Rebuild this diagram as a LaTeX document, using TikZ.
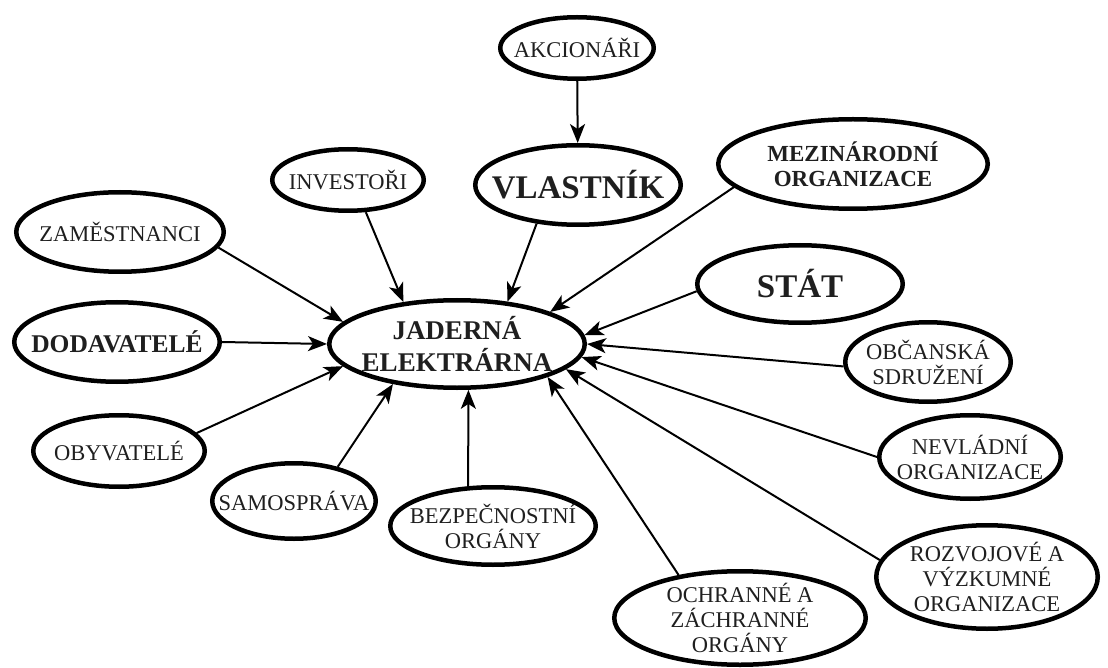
\documentclass[tikz,border=0pt]{standalone}
\usepackage{fontspec}
\setmainfont{Liberation Serif}
\usetikzlibrary{shapes.geometric,arrows.meta}
\tikzset{
  ell/.style={draw, ellipse, line width=4.5pt, inner sep=0pt, fill=white},
  txt/.style={font=\fontsize{22.5}{25}\selectfont, align=center, inner sep=0pt, text=black!88},
  txtb/.style={align=center, inner sep=0pt, text=black!88},
  conn/.style={-{Stealth[length=19pt,width=15pt,inset=5pt]}, line width=2pt},
}
\begin{document}
\begin{tikzpicture}[x=1pt,y=-1pt]
\useasboundingbox (0,0) rectangle (1108,668);
% ellipses
\node[ell, minimum width=153.5pt, minimum height=61.5pt] (akc) at (577,48) {};
\node[ell, minimum width=205.5pt, minimum height=79.5pt] (vla) at (578,185) {};
\node[ell, minimum width=151.5pt, minimum height=61.5pt] (inv) at (348,180) {};
\node[ell, minimum width=269.5pt, minimum height=89.5pt] (mez) at (853,164) {};
\node[ell, minimum width=207.5pt, minimum height=79.5pt] (zam) at (120,232) {};
\node[ell, minimum width=205.5pt, minimum height=77.5pt] (stat) at (800,284) {};
\node[ell, minimum width=255.5pt, minimum height=87.5pt] (je) at (457,344) {};
\node[ell, minimum width=205.5pt, minimum height=79.5pt] (dod) at (117,342) {};
\node[ell, minimum width=165.5pt, minimum height=79.5pt] (obc) at (928,362) {};
\node[ell, minimum width=171.5pt, minimum height=71.5pt] (oby) at (119,451) {};
\node[ell, minimum width=181.5pt, minimum height=83.5pt] (nevl) at (970,457) {};
\node[ell, minimum width=163.5pt, minimum height=75.5pt] (sam) at (294,501) {};
\node[ell, minimum width=205.5pt, minimum height=77.5pt] (bez) at (493,526) {};
\node[ell, minimum width=221.5pt, minimum height=103.5pt] (rozv) at (987,577) {};
\node[ell, minimum width=251.5pt, minimum height=93.5pt] (ochr) at (740,618) {};
% texts
\node[txt] (akc-t) at (akc) {AKCIONÁŘI};
\node[txtb, font=\fontsize{33}{38}\selectfont\bfseries] (vla-t) at (vla) {VLASTNÍK};
\node[txt] (inv-t) at (inv) {INVESTOŘI};
\node[txtb, font=\fontsize{23}{25}\selectfont\bfseries] (mez-t) at (mez) {MEZINÁRODNÍ\\ORGANIZACE};
\node[txt] (zam-t) at (zam) {ZAMĚSTNANCI};
\node[txtb, font=\fontsize{33}{38}\selectfont\bfseries] (stat-t) at (stat) {STÁT};
\node[txtb, font=\fontsize{27}{32}\selectfont\bfseries] (je-t) at (je) {JADERNÁ\\ELEKTRÁRNA};
\node[txtb, font=\fontsize{25.5}{29}\selectfont\bfseries] (dod-t) at (dod) {DODAVATELÉ};
\node[txt] (obc-t) at (obc) {OBČANSKÁ\\SDRUŽENÍ};
\node[txt] (oby-t) at (oby) {OBYVATELÉ};
\node[txt] (nevl-t) at (nevl) {NEVLÁDNÍ\\ORGANIZACE};
\node[txt] (sam-t) at (sam) {SAMOSPRÁVA};
\node[txt] (bez-t) at (bez) {BEZPEČNOSTNÍ\\ORGÁNY};
\node[txt] (rozv-t) at (rozv) {ROZVOJOVÉ A\\VÝZKUMNÉ\\ORGANIZACE};
\node[txt] (ochr-t) at (ochr) {OCHRANNÉ A\\ZÁCHRANNÉ\\ORGÁNY};
% connectors
\draw[conn] (akc) -- (vla);
\draw[conn] (zam.-9) -- (je.169.4);
\draw[conn] (inv.-61) -- (je.142.5);
\draw[conn] (vla.-137) -- (je.40.5);
\draw[conn] (mez.191.2) -- (je.19.8);
\draw[conn] (stat.184.9) -- (je.4.9);
\draw[conn] (dod.0) -- (je.180);
\draw[conn] (oby.13.5) -- (je.191.3);
\draw[conn] (sam.38.3) -- (je.212.7);
\draw[conn] (bez.122.7) -- (je.284.3);
\draw[conn] (ochr.145.9) -- (je.-20.6);
\draw[conn] (rozv.171.6) -- (je.-13.1);
\draw[conn] (nevl.180) -- (je.-6.6);
\draw[conn] (obc.183) -- (je.-0.8);
\end{tikzpicture}
\end{document}
